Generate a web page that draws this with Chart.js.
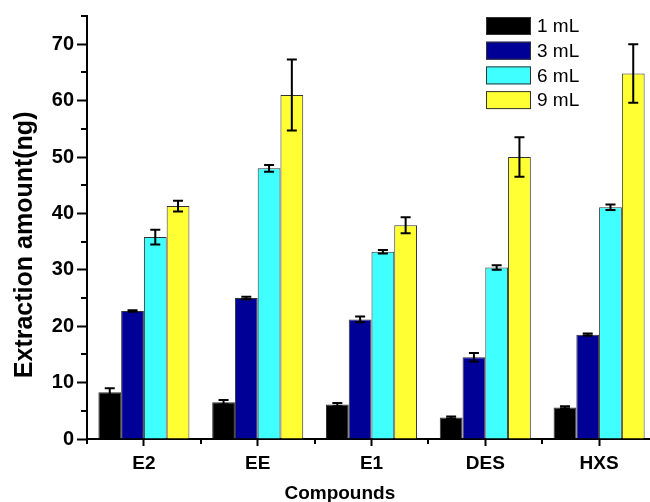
<!DOCTYPE html>
<html>
<head>
<meta charset="utf-8">
<script src="https://cdn.jsdelivr.net/npm/chart.js@4.4.1/dist/chart.umd.min.js"></script>
<style>
  html, body { margin: 0; padding: 0; background: #fff; overflow: hidden; }
  canvas { display: block; }
</style>
</head>
<body>
<canvas id="chart" width="660" height="502"></canvas>
<script>
// values
const compounds = ['E2', 'EE', 'E1', 'DES', 'HXS'];
const volumes = ['1 mL', '3 mL', '6 mL', '9 mL'];
const amount1 = [8.3, 6.5, 6.1, 3.8, 5.6];
const amount3 = [22.7, 25.0, 21.2, 14.5, 18.5];
const amount6 = [35.8, 48.0, 33.2, 30.4, 41.1];
const amount9 = [41.3, 61.0, 37.9, 50.0, 64.8];
const err1 = [0.7, 0.4, 0.3, 0.2, 0.2];
const err3 = [0.15, 0.2, 0.5, 0.75, 0.2];
const err6 = [1.3, 0.6, 0.3, 0.4, 0.5];
const err9 = [0.95, 6.3, 1.4, 3.5, 5.2];
const yMax = 75;
const yStep = 5;
const yLabelStep = 10;

const colors = ['#000000', '#000096', '#40FFFF', '#FFFF33'];
const FONT = '"Liberation Sans", Arial, Helvetica, sans-serif';

const errorBars = {
  id: 'errorBars',
  afterDatasetsDraw(chart) {
    const ctx = chart.ctx;
    const y = chart.scales.y;
    ctx.save();
    ctx.strokeStyle = '#000';
    ctx.lineWidth = 2;
    chart.data.datasets.forEach((ds, i) => {
      const meta = chart.getDatasetMeta(i);
      meta.data.forEach((bar, j) => {
        const v = ds.data[j], e = ds.errors[j];
        const top = y.getPixelForValue(v + e);
        const bot = y.getPixelForValue(v - e);
        const x = bar.x;
        ctx.beginPath();
        ctx.moveTo(x, top); ctx.lineTo(x, bot);
        ctx.moveTo(x - 5, top); ctx.lineTo(x + 5, top);
        ctx.moveTo(x - 5, bot); ctx.lineTo(x + 5, bot);
        ctx.stroke();
      });
    });
    ctx.restore();
  }
};

// short minor ticks on both axes
const minorTicks = {
  id: 'minorTicks',
  afterDraw(chart) {
    const ctx = chart.ctx;
    const { x, y } = chart.scales;
    const area = chart.chartArea;
    ctx.save();
    ctx.strokeStyle = '#000';
    ctx.lineWidth = 2;
    ctx.beginPath();
    for (let v = yStep; v <= yMax; v += yLabelStep) {
      const py = Math.round(y.getPixelForValue(v));
      ctx.moveTo(area.left, py); ctx.lineTo(area.left - 6, py);
    }
    for (let i = 0; i <= compounds.length; i++) {
      const px = Math.round(x.getPixelForValue(i - 0.5));
      ctx.moveTo(px, area.bottom); ctx.lineTo(px, area.bottom + 5);
    }
    ctx.stroke();
    ctx.restore();
  }
};

const boxLegend = {
  id: 'boxLegend',
  afterDraw(chart) {
    const ctx = chart.ctx;
    ctx.save();
    ctx.font = '19px ' + FONT;
    ctx.textBaseline = 'middle';
    ctx.textAlign = 'left';
    chart.data.datasets.forEach((ds, i) => {
      const cy = 26 + i * 24.7;
      ctx.fillStyle = ds.backgroundColor;
      ctx.fillRect(486, cy - 9, 45, 18);
      ctx.strokeStyle = '#333';
      ctx.lineWidth = 1;
      ctx.strokeRect(486.5, cy - 8.5, 44, 17);
      ctx.fillStyle = '#000';
      ctx.fillText(ds.label, 537, cy + 1);
    });
    ctx.restore();
  }
};

const series = [amount1, amount3, amount6, amount9];
const errs = [err1, err3, err6, err9];

new Chart(document.getElementById('chart'), {
  type: 'bar',
  data: {
    labels: compounds,
    datasets: volumes.map((v, i) => ({
      label: v,
      data: series[i],
      errors: errs[i],
      backgroundColor: colors[i],
      borderColor: '#333',
      borderWidth: 1,
      categoryPercentage: 0.8,
      barPercentage: 1.0
    }))
  },
  options: {
    responsive: false,
    animation: false,
    devicePixelRatio: 1,
    layout: { padding: { top: 16, right: 4, left: 0, bottom: 0 } },
    plugins: { legend: { display: false }, tooltip: { enabled: false } },
    scales: {
      x: {
        afterFit(s) { s.height = 63; },
        grid: { display: true, drawOnChartArea: false, offset: false, tickLength: 7, tickWidth: 2, tickColor: '#000' },
        border: { display: true, color: '#000', width: 2 },
        ticks: { color: '#000', padding: 6, font: { family: FONT, size: 19, weight: 'bold' } },
        title: {
          display: true,
          text: 'Compounds' + '\u00a0'.repeat(12),
          color: '#000',
          padding: { top: 0, bottom: -3 },
          font: { family: FONT, size: 19, weight: 'bold' }
        }
      },
      y: {
        min: 0,
        max: yMax,
        afterFit(s) { s.width = 87; },
        grid: {
          display: true, drawOnChartArea: false, tickLength: 10, tickWidth: 2,
          tickColor: c => (c.tick && c.tick.value % yLabelStep === 0) ? '#000' : 'rgba(0,0,0,0)'
        },
        border: { display: true, color: '#000', width: 2 },
        ticks: {
          stepSize: yStep,
          color: '#000',
          padding: 3,
          font: { family: FONT, size: 20, weight: 'bold' },
          callback: v => (v % yLabelStep === 0 ? v : '')
        },
        title: {
          display: true,
          text: 'Extraction amount(ng)' + '\u00a0'.repeat(5),
          color: '#000',
          padding: { top: 10, bottom: 0 },
          font: { family: FONT, size: 25, weight: 'bold' }
        }
      }
    }
  },
  plugins: [errorBars, minorTicks, boxLegend]
});
</script>
</body>
</html>
